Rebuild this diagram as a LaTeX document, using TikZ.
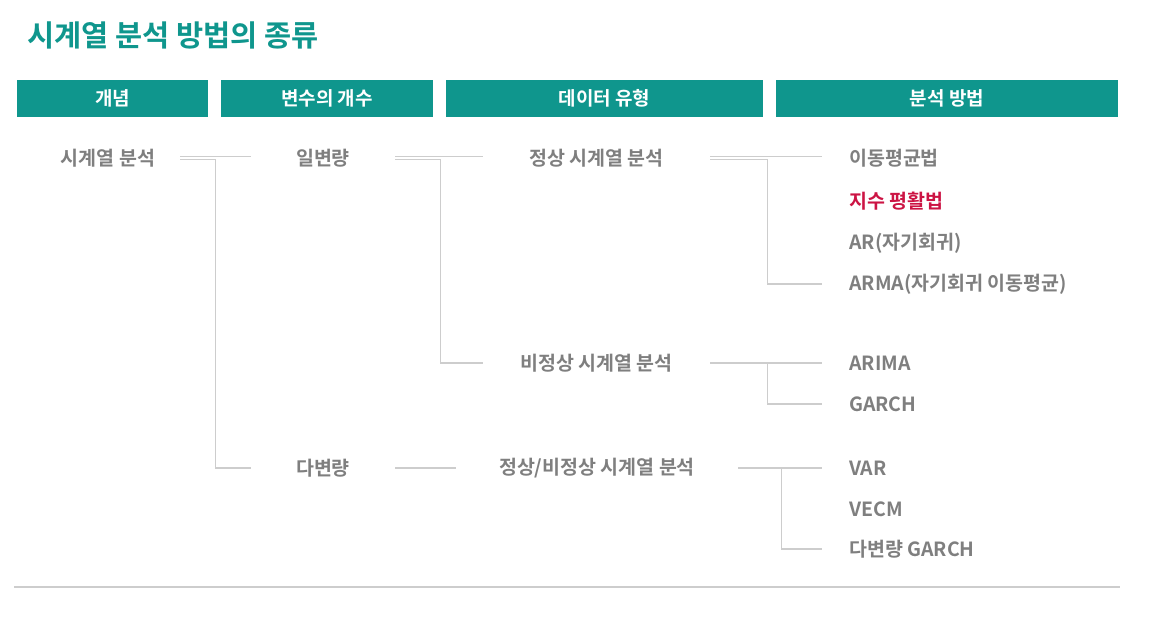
\documentclass[tikz,border=0pt]{standalone}
\usepackage{fontspec}
\setmainfont{Noto Sans CJK KR}[BoldFont={Noto Sans CJK KR Bold}]
\usetikzlibrary{positioning,calc}

\definecolor{teal1}{HTML}{0F968D}
\definecolor{txtgray}{HTML}{7F7F7F}
\definecolor{linegray}{HTML}{CDCDCD}
\definecolor{hired}{HTML}{CC1444}

\begin{document}
\begin{tikzpicture}[x=1pt, y=-1pt,
    every node/.style={inner sep=0, font=\bfseries\fontsize{19.5}{22}\selectfont, text=txtgray},
    hdr/.style={fill=teal1, text=white, minimum height=37, font=\bfseries\fontsize{19}{22}\selectfont},
    lvl/.style={minimum width=144},
    typ/.style={minimum width=227},
    meth/.style={anchor=west},
    conn/.style={draw=linegray, line width=1.3pt},
    leaf/.style={conn, shorten >=27pt}]
    \useasboundingbox (0,0) rectangle (1171,620);

    \node (title) [anchor=west] at (27,35) {\textcolor{teal1}{\fontsize{29.5}{34}\selectfont 시계열 분석 방법의 종류}};

    \node (h1) [hdr, minimum width=191] at (112.5,98.5) {개념};
    \node (h2) [hdr, minimum width=212] at (327,98.5) {변수의 개수};
    \node (h3) [hdr, minimum width=317] at (604.5,98.5) {데이터 유형};
    \node (h4) [hdr, minimum width=342] at (947,98.5) {분석 방법};

    \node (c1) [lvl] at (108,158) {시계열 분석};
    \node (v1) [lvl] at (323,158) {일변량};
    \node (v2) [lvl] at (323,468) {다변량};
    \node (t1) [typ] at (596.5,158) {정상 시계열 분석};
    \node (t2) [typ] at (596.5,363) {비정상 시계열 분석};
    \node (t3) [minimum width=282] at (597,468) {정상/비정상 시계열 분석};

    \node (m1) [meth] at (849,158) {이동평균법};
    \node (m2) [meth] at (849,201) {\textcolor{hired}{지수 평활법}};
    \node (m3) [meth] at (849,243) {AR(자기회귀)};
    \node (m4) [meth] at (849,284) {ARMA(자기회귀 이동평균)};
    \node (m5) [meth] at (849,363) {ARIMA};
    \node (m6) [meth] at (849,404) {GARCH};
    \node (m7) [meth] at (849,468) {VAR};
    \node (m8) [meth] at (849,509) {VECM};
    \node (m9) [meth] at (849,549) {다변량 GARCH};

    \draw[conn] ([yshift=1.5]c1.east) -- ([yshift=1.5]v1.west);
    \draw[conn] ([yshift=-1.5]c1.east) -- ++(35,0) |- (v2.west);
    \draw[conn] ([yshift=1.5]v1.east) -- ([yshift=1.5]t1.west);
    \draw[conn] ([yshift=-1.5]v1.east) -- ++(45,0) |- (t2.west);
    \draw[conn] (v2.east) -- (t3.west);

    \draw[leaf] ([yshift=1.5]t1.east) -- ([yshift=1.5]m1.west);
    \draw[leaf] ([yshift=-1.5]t1.east) -- ++(57,0) |- (m4.west);
    \draw[leaf] (t2.east) -- (m5.west);
    \draw[leaf] (t2.east) -- ++(57,0) |- (m6.west);
    \draw[leaf] (t3.east) -- (m7.west);
    \draw[leaf] (t3.east) -- ++(43,0) |- (m9.west);

    \coordinate (bl) at (14,587);
    \coordinate (br) at (1120,587);
    \draw[draw=linegray, line width=2pt] (bl) -- (br);
\end{tikzpicture}
\end{document}
